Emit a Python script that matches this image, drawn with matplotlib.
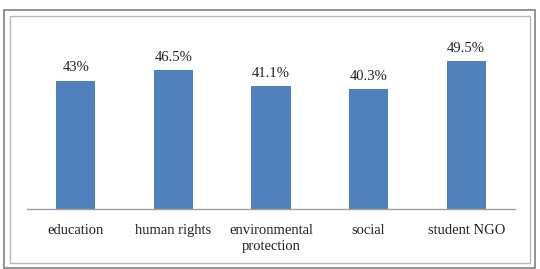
import matplotlib
matplotlib.use("Agg")
import matplotlib.pyplot as plt
from matplotlib.patches import Rectangle

categories = ["education", "human rights", "environmental\nprotection", "social", "student NGO"]
values = [43, 46.5, 41.1, 40.3, 49.5]
labels = ["43%", "46.5%", "41.1%", "40.3%", "49.5%"]

W, H = 540, 269
fig = plt.figure(figsize=(W / 100, H / 100), dpi=100)
fig.patch.set_facecolor("white")

# outer frame
fig.patches.append(Rectangle((4 / W, 1 - 268 / H), 531 / W, 258 / H, transform=fig.transFigure,
                             fill=False, edgecolor="#808080", linewidth=1.2))
# inner frame
fig.patches.append(Rectangle((10 / W, 1 - 263 / H), 520 / W, 247 / H, transform=fig.transFigure,
                             fill=False, edgecolor="#B8B8B8", linewidth=1.0))

ax = fig.add_axes([27 / W, 1 - 209 / H, 488 / W, 179 / H])
x = range(len(categories))
bars = ax.bar(x, values, width=0.4, color="#4F81BD")
ax.set_ylim(0, 60)
ax.set_xlim(-0.5, len(categories) - 0.5)
for b, lab in zip(bars, labels):
    ax.annotate(lab, (b.get_x() + b.get_width() / 2, b.get_height()), xytext=(0, 4.5),
                textcoords="offset points", ha="center", va="bottom",
                family="Liberation Serif", fontsize=10.5, color="#222222")
ax.set_xticks(list(x))
ax.set_xticklabels(categories, family="Liberation Serif", fontsize=10.5, color="#222222",
                   linespacing=1.35)
ax.tick_params(axis="x", length=0, pad=10.5)
ax.set_yticks([])
for s in ["top", "right", "left"]:
    ax.spines[s].set_visible(False)
ax.spines["bottom"].set_color("#A0A0A0")
ax.spines["bottom"].set_linewidth(1.0)

fig.savefig("out.png", dpi=100)
